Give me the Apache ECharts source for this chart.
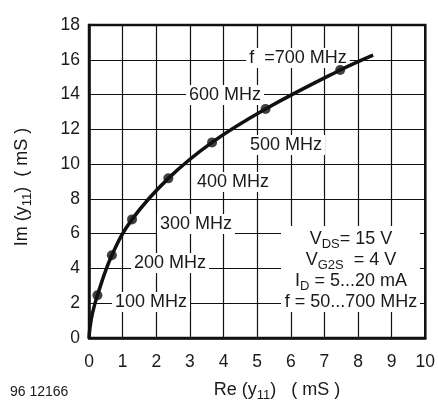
<!DOCTYPE html>
<html><head><meta charset="utf-8">
<script src="https://cdn.jsdelivr.net/npm/echarts@6/dist/echarts.min.js"></script>
<style>html,body{margin:0;padding:0;background:#fff}#c{width:438px;height:401px}</style>
</head><body><div id="c"></div>
<script>
// Re(y11) in mS, Im(y11) in mS along the curve (traced)
var curveRe = [0, 0.03, 0.1, 0.25, 0.68, 1.28, 2.36, 3.66, 5.25, 7.47, 8.45];
var curveIm = [0, 0.6, 1.4, 2.46, 4.76, 6.82, 9.18, 11.25, 13.17, 15.41, 16.27];
// marked frequency points
var freqLabels = ['100 MHz', '200 MHz', '300 MHz', '400 MHz', '500 MHz', '600 MHz', 'f  =700 MHz'];
var markRe = [0.25, 0.68, 1.28, 2.36, 3.66, 5.25, 7.47];
var markIm = [2.46, 4.76, 6.82, 9.18, 11.25, 13.17, 15.41];
var xTicks = [0,1,2,3,4,5,6,7,8,9,10];
var yTicks = [0,2,4,6,8,10,12,14,16,18];

var FONT = '"Liberation Sans", Arial, Helvetica, sans-serif';
var chart = echarts.init(document.getElementById('c'), null, {renderer: 'canvas'});

var curveData = curveRe.map(function(x, i){ return [x, curveIm[i]]; });
var markData = markRe.map(function(x, i){ return [x, markIm[i]]; });

// label placements (pixel centres) for frequency annotations
var labelPos = [[151,302],[170,263],[196,224],[233,182],[286,145],[225,95],[298,58]];

var graphics = [];
freqLabels.forEach(function(t, i){
  graphics.push({
    type: 'text', x: labelPos[i][0], y: labelPos[i][1], z: 5,
    style: {text: t, font: '18px ' + FONT, fill: '#1a1a1a', align: 'center', verticalAlign: 'middle',
      backgroundColor: '#fff', padding: [1, 3]}
  });
});
// conditions box
graphics.push({type: 'rect', shape: {x: 281, y: 226, width: 139, height: 86}, style: {fill: '#fff'}, z: 4});
var rich = {
  n: {fontSize: 18, fontFamily: FONT, fill: '#1a1a1a', lineHeight: 24, verticalAlign: 'middle'},
  s: {fontSize: 13, fontFamily: FONT, fill: '#1a1a1a', lineHeight: 12, verticalAlign: 'bottom'}
};
var cond = [
  '{n|V}{s|DS}{n|= 15 V}',
  '{n|V}{s|G2S}{n|  = 4 V}',
  '{n|I}{s|D}{n| = 5...20 mA}',
  '{n|f = 50...700 MHz}'
];
var condY = [239, 260, 281, 302];
cond.forEach(function(t, i){
  graphics.push({type: 'text', x: 351, y: condY[i], z: 5,
    style: {text: t, rich: rich, align: 'center', verticalAlign: 'middle'}});
});
// axis names
graphics.push({type: 'text', x: 277, y: 390, z: 5,
  style: {text: '{n|Re (y}{s|11}{n|)   ( mS )}', rich: rich, align: 'center', verticalAlign: 'middle'}});
graphics.push({type: 'text', x: 22, y: 187, rotation: Math.PI/2, z: 5,
  style: {text: '{n|Im (y}{s|11}{n|)  ( mS )}', rich: rich, align: 'center', verticalAlign: 'middle'}});
graphics.push({type: 'text', x: 10, y: 392, z: 5,
  style: {text: '96 12166', font: '14px ' + FONT, fill: '#1a1a1a', align: 'left', verticalAlign: 'middle'}});

chart.setOption({
  animation: false,
  backgroundColor: '#fff',
  grid: {left: 89, top: 25, right: 3, bottom: 63, show: true, borderColor: '#111', borderWidth: 2.5},
  xAxis: {
    type: 'value', min: 0, max: 10, interval: 1,
    axisLine: {show: true, onZero: false, lineStyle: {color: '#111', width: 2.5}},
    axisTick: {show: false},
    axisLabel: {fontSize: 17.5, fontFamily: FONT, color: '#1a1a1a', margin: 15,
      formatter: function(v){ return xTicks.indexOf(v) >= 0 ? String(v) : ''; }},
    splitLine: {show: true, lineStyle: {color: '#111', width: 1.2}}
  },
  yAxis: {
    type: 'value', min: 0, max: 18, interval: 2,
    axisLine: {show: true, onZero: false, lineStyle: {color: '#111', width: 2.5}},
    axisTick: {show: false},
    axisLabel: {fontSize: 17.5, fontFamily: FONT, color: '#1a1a1a', margin: 9,
      formatter: function(v){ return yTicks.indexOf(v) >= 0 ? String(v) : ''; }},
    splitLine: {show: true, lineStyle: {color: '#111', width: 1.2}}
  },
  series: [
    {type: 'line', data: curveData, smooth: 0.4, showSymbol: false,
      lineStyle: {color: '#111', width: 3.5}, z: 20},
    {type: 'scatter', data: markData, symbolSize: 10, itemStyle: {color: '#111'}, z: 21}
  ],
  graphic: graphics
});
</script></body></html>
